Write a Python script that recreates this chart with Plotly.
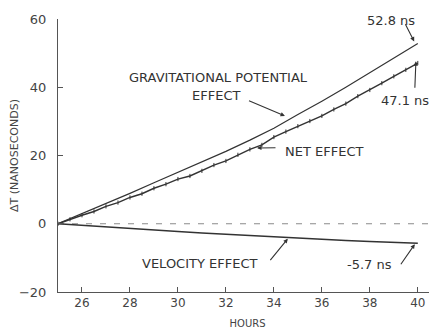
import plotly.graph_objects as go

# Hours and effects (ns)
hours = [25, 26, 27, 28, 29, 30, 31, 32, 33, 34, 35, 35.6, 36, 37, 38, 39, 40]
grav = [0, 2.9, 5.9, 8.9, 12.0, 15.0, 18.0, 21.2, 24.5, 28.0, 32.0, 34.3, 35.9, 40.0, 44.2, 48.5, 52.8]
vel_hours = [25, 26, 27, 28, 29, 30, 31, 32, 33, 34, 35, 36, 37, 38, 39, 40]
vel = [0, -0.5, -1.0, -1.4, -1.8, -2.3, -2.7, -3.1, -3.5, -3.9, -4.3, -4.6, -4.9, -5.2, -5.45, -5.7]
net_hours = [25, 25.5, 26, 26.5, 27, 27.5, 28, 28.5, 29, 29.5, 30, 30.5, 31, 31.5, 32, 32.5,
             33, 33.5, 34, 34.5, 35, 35.5, 36, 36.5, 37, 37.5, 38, 38.5, 39, 39.5, 40]
net = [0, 1.3, 2.5, 3.6, 5.1, 6.2, 7.7, 8.8, 10.4, 11.6, 13.1, 14.0, 15.5, 17.2, 18.4, 20.2,
       21.8, 23.1, 25.4, 27.0, 28.6, 30.1, 31.6, 33.5, 35.2, 37.4, 39.2, 41.2, 43.2, 45.1, 47.1]

xticks = [26, 28, 30, 32, 34, 36, 38, 40]
yticks = [-20, 0, 20, 40, 60]

ink = "#333333"
fig = go.Figure()
fig.add_trace(go.Scatter(x=[25, 40.8], y=[0, 0], mode="lines",
                         line=dict(color="#8a8a8a", width=1, dash="6px,8px"), hoverinfo="skip"))
fig.add_trace(go.Scatter(x=hours, y=grav, mode="lines", line=dict(color=ink, width=1.2)))
fig.add_trace(go.Scatter(x=vel_hours, y=vel, mode="lines", line=dict(color=ink, width=1.5)))
fig.add_trace(go.Scatter(x=net_hours, y=net, mode="lines+markers",
                         line=dict(color=ink, width=1.4),
                         marker=dict(symbol="line-ns", size=3, line=dict(color=ink, width=1))))

tf = dict(family="DejaVu Sans, sans-serif", size=13, color=ink)
texts = [
    ("52.8 ns", 38.9, 59.5),
    ("GRAVITATIONAL POTENTIAL", 31.67, 42.8),
    ("EFFECT", 31.6, 37.5),
    ("NET EFFECT", 36.1, 21.1),
    ("47.1 ns", 39.46, 36.1),
    ("VELOCITY EFFECT", 30.9, -11.7),
    ("-5.7 ns", 38.0, -12.0),
]
anns = []
for t, x, y in texts:
    anns.append(dict(text=t, x=x, y=y, xref="x", yref="y", showarrow=False, font=tf))
arrows = [
    (39.45, 58.9, 39.85, 53.4),
    (32.9, 36.2, 34.46, 31.6),
    (34.13, 22.3, 33.3, 22.2),
    (39.875, 39.4, 39.92, 47.6),
    (33.8, -11.1, 34.58, -4.4),
    (39.25, -12.3, 39.875, -6.0),
]
for ax, ay, x, y in arrows:
    anns.append(dict(text="", x=x, y=y, ax=ax, ay=ay, xref="x", yref="y", axref="x", ayref="y",
                     showarrow=True, arrowhead=2, arrowsize=0.8, arrowwidth=1.1, arrowcolor=ink))

fig.update_layout(
    width=429, height=321,
    margin=dict(l=50, r=0, t=11, b=37),
    paper_bgcolor="white", plot_bgcolor="white",
    showlegend=False,
    annotations=anns,
    font=dict(family="DejaVu Sans, sans-serif", color="#444444"),
    xaxis=dict(range=[25, 40.8], tickvals=xticks, ticks="inside", ticklen=5, tickcolor="#555",
               showline=True, linecolor="#555", linewidth=1, showgrid=False, zeroline=False,
               automargin=False,
               tickfont=dict(size=12, color="#444"),
               title=dict(text="HOURS", font=dict(size=10, color="#444"), standoff=10)),
    yaxis=dict(range=[-20, 60], tickvals=yticks, ticks="inside", ticklen=5, tickcolor="#555",
               showline=True, linecolor="#555", linewidth=1, showgrid=False, zeroline=False,
               automargin=False,
               tickfont=dict(size=13, color="#444"), ticklabelstandoff=8,
               title=dict(text="ΔT (NANOSECONDS)", font=dict(size=11, color="#444"), standoff=8)),
)
fig.write_html("out.html")
